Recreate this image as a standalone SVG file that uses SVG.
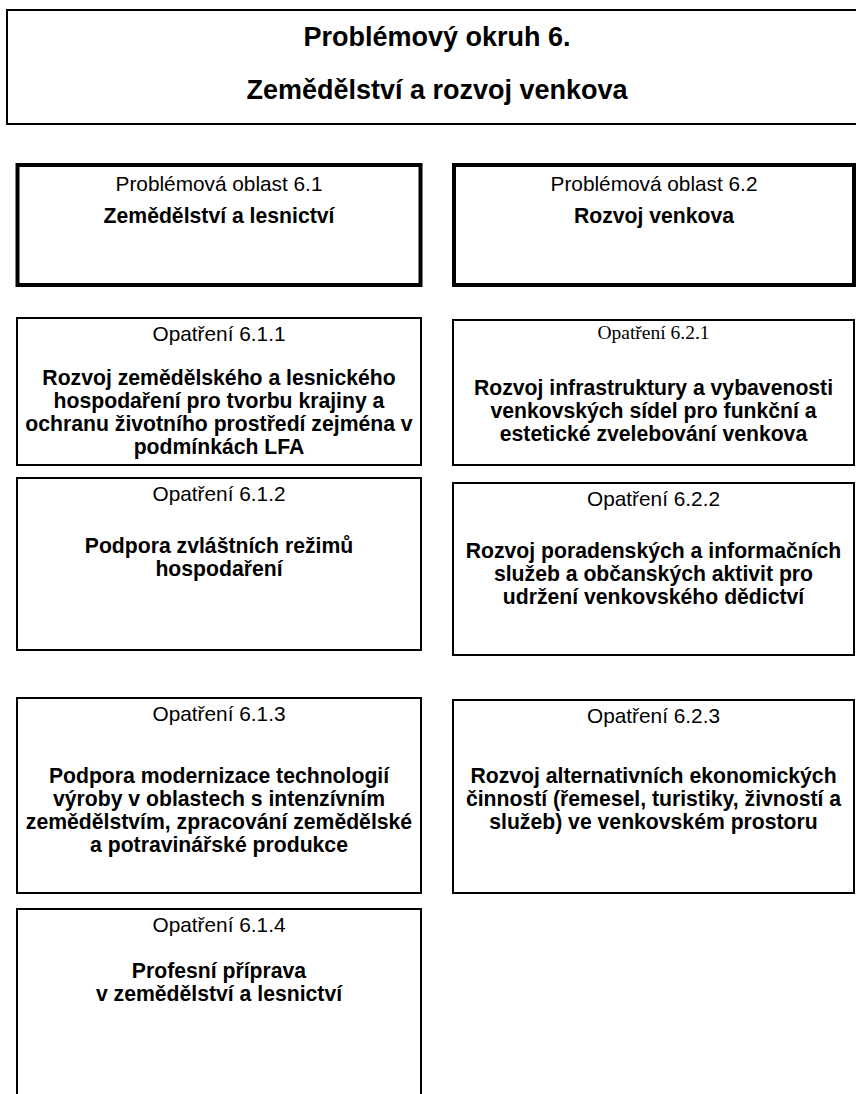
<svg xmlns="http://www.w3.org/2000/svg" width="856" height="1094" viewBox="0 0 856 1094">
<style>
.box{fill:#fff;stroke:#000;stroke-width:2}
.area{fill:#fff;stroke:#000;stroke-width:4}
text{font-family:"Liberation Sans",Arial,sans-serif;fill:#000;text-anchor:middle}
.t{font-size:27px;font-weight:bold}
.n{font-size:20.8px}
.s{font-family:"Liberation Serif","Times New Roman",serif;font-size:19.5px}
.b{font-size:21.2px;font-weight:bold}
</style>
<rect width="856" height="1094" fill="#fff"/>
<g id="okruh6">
<rect class="box" x="7" y="10" width="860" height="114"/>
<text class="t" x="437" y="46">Problémový okruh 6.</text>
<text class="t" x="437" y="99">Zemědělství a rozvoj venkova</text>
</g>
<g id="oblast61">
<rect class="area" x="17.5" y="165" width="403" height="120"/>
<text class="n" x="219" y="191">Problémová oblast 6.1</text>
<text class="b" x="219" y="223">Zemědělství a lesnictví</text>
</g>
<g id="oblast62">
<rect class="area" x="454" y="165" width="400" height="120"/>
<text class="n" x="654" y="191">Problémová oblast 6.2</text>
<text class="b" x="654" y="223">Rozvoj venkova</text>
</g>
<g id="opatreni611">
<rect class="box" x="17" y="318" width="404" height="147"/>
<text class="n" x="219" y="341">Opatření 6.1.1</text>
<text class="b" x="219" y="385">Rozvoj zemědělského a lesnického</text>
<text class="b" x="219" y="408">hospodaření pro tvorbu krajiny a</text>
<text class="b" x="219" y="431">ochranu životního prostředí zejména v</text>
<text class="b" x="219" y="454">podmínkách LFA</text>
</g>
<g id="opatreni621">
<rect class="box" x="453" y="320" width="401" height="145"/>
<text class="s" x="653.5" y="339">Opatření 6.2.1</text>
<text class="b" x="653.5" y="395">Rozvoj infrastruktury a vybavenosti</text>
<text class="b" x="653.5" y="418">venkovských sídel pro funkční a</text>
<text class="b" x="653.5" y="441">estetické zvelebování venkova</text>
</g>
<g id="opatreni612">
<rect class="box" x="17" y="478" width="404" height="172"/>
<text class="n" x="219" y="501">Opatření 6.1.2</text>
<text class="b" x="219" y="553">Podpora zvláštních režimů</text>
<text class="b" x="219" y="576">hospodaření</text>
</g>
<g id="opatreni622">
<rect class="box" x="453" y="483" width="401" height="172"/>
<text class="n" x="653.5" y="506">Opatření 6.2.2</text>
<text class="b" x="653.5" y="558">Rozvoj poradenských a informačních</text>
<text class="b" x="653.5" y="581">služeb a občanských aktivit pro</text>
<text class="b" x="653.5" y="604">udržení venkovského dědictví</text>
</g>
<g id="opatreni613">
<rect class="box" x="17" y="698" width="404" height="195"/>
<text class="n" x="219" y="721">Opatření 6.1.3</text>
<text class="b" x="219" y="783">Podpora modernizace technologií</text>
<text class="b" x="219" y="806">výroby v oblastech s intenzívním</text>
<text class="b" x="219" y="829">zemědělstvím, zpracování zemědělské</text>
<text class="b" x="219" y="852">a potravinářské produkce</text>
</g>
<g id="opatreni623">
<rect class="box" x="453" y="700" width="401" height="193"/>
<text class="n" x="653.5" y="723">Opatření 6.2.3</text>
<text class="b" x="653.5" y="783">Rozvoj alternativních ekonomických</text>
<text class="b" x="653.5" y="806">činností (řemesel, turistiky, živností a</text>
<text class="b" x="653.5" y="829">služeb) ve venkovském prostoru</text>
</g>
<g id="opatreni614">
<rect class="box" x="17" y="909" width="404" height="200"/>
<text class="n" x="219" y="932">Opatření 6.1.4</text>
<text class="b" x="219" y="978">Profesní příprava</text>
<text class="b" x="219" y="1001">v zemědělství a lesnictví</text>
</g>
<g id="connectors"/>
</svg>
